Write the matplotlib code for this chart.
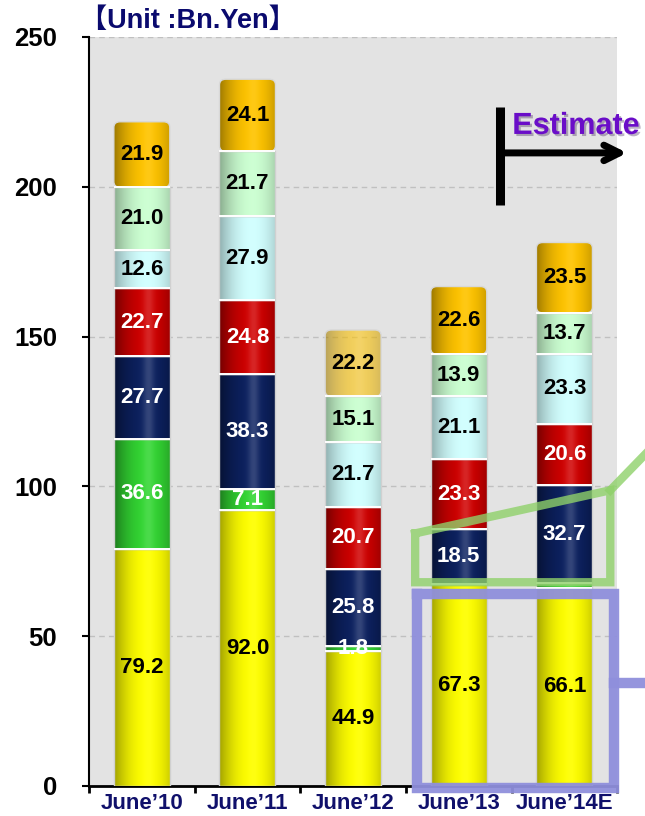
import numpy as np
import matplotlib
matplotlib.use('Agg')
import matplotlib.pyplot as plt
from matplotlib import patheffects
from matplotlib.colors import to_rgb
from matplotlib.patches import Rectangle, FancyBboxPatch

plt.rcParams['font.family'] = ['Liberation Sans', 'Noto Sans CJK JP']
plt.rcParams['font.weight'] = 'bold'

years = ['June’10', 'June’11', 'June’12', 'June’13', 'June’14E']
yellow = [79.2, 92.0, 44.9, 67.3, 66.1]
green = [36.6, 7.1, 1.8, 0.0, 1.5]
navy = [27.7, 38.3, 25.8, 18.5, 32.7]
red = [22.7, 24.8, 20.7, 23.3, 20.6]
cyan = [12.6, 27.9, 21.7, 21.1, 23.3]
mint = [21.0, 21.7, 15.1, 13.9, 13.7]
gold = [21.9, 24.1, 22.2, 22.6, 23.5]

# stack order bottom -> top: values, fill, label colour
layers = [
    (yellow, '#FFFF00', 'black'),
    (green, '#33D633', 'white'),
    (navy, '#0C2160', 'white'),
    (red, '#D00000', 'white'),
    (cyan, '#D2FFFF', 'black'),
    (mint, '#CCFFD2', 'black'),
    (gold, '#FFC400', 'black'),
]
BAR_W = 0.53


def cylinder(color, n=80):
    # horizontal shading: dark left rim, bright band right of centre
    t = np.linspace(0, 1, n)
    s = np.where(t < 0.6, 1 - 0.5 * (1 - t / 0.6) ** 2,
                 1 - 0.25 * ((t - 0.6) / 0.4) ** 2)
    base = np.array(to_rgb(color))
    dark = 1 - base.mean()
    s = 1 - (1 - s) * (0.6 + 0.4 * dark)
    rgb = base[None, :] * s[:, None]
    hl = 0.2 * np.exp(-((t - 0.62) / 0.1) ** 2)
    rgb = rgb + (1 - rgb) * hl[:, None] * dark
    return np.clip(rgb, 0, 1)[None, :, :]


fig = plt.figure(figsize=(6.45, 8.16), dpi=100)
ax = fig.add_axes([0.138, 0.0368, 0.819, 0.9179])
ax.set_facecolor('#E3E3E3')

x = np.arange(len(years))
bottom = np.zeros(len(years))
top_layer = len(layers) - 1
for li, (vals, col, tcol) in enumerate(layers):
    vals = np.array(vals)
    bars = ax.bar(x, vals, BAR_W, bottom=bottom, color=col, lw=0, zorder=2)
    for i, rect in enumerate(bars):
        v = vals[i]
        if v <= 0:
            continue
        alpha = 0.6 if (li == top_layer and i == 2) else 1.0
        x0 = x[i] - BAR_W / 2
        if li == top_layer:
            # rounded cap on the top segment
            rect.set_visible(False)
            clip = FancyBboxPatch((x0, bottom[i]), BAR_W, v,
                                  boxstyle='round,pad=0,rounding_size=0.06',
                                  mutation_aspect=32, fill=False,
                                  ec='#D8D8D8', lw=1, zorder=4)
            ax.add_patch(clip)
        else:
            clip = rect
            ax.add_patch(Rectangle((x0, bottom[i]), BAR_W, v, fill=False,
                                   ec='#D0D0D0', lw=1, zorder=4))
        im = ax.imshow(cylinder(col), extent=[x0, x0 + BAR_W, bottom[i], bottom[i] + v],
                       aspect='auto', interpolation='bilinear', zorder=3, alpha=alpha)
        im.set_clip_path(clip)
        if li > 0:
            ax.plot([x0, x0 + BAR_W], [bottom[i], bottom[i]],
                    color='white', lw=1.4, zorder=4, solid_capstyle='butt')
        if v >= 1.7:
            ax.text(x[i], bottom[i] + v / 2, f'{v:.1f}', ha='center', va='center',
                    fontsize=16, color=tcol, zorder=5)
    bottom = bottom + vals

ax.set_xlim(-0.5, len(years) - 0.5)
ax.set_ylim(0, 250)
ax.set_yticks(range(0, 251, 50))
ax.yaxis.grid(True, linestyle=(0, (4, 3)), color='#C0C0C0', lw=1)
ax.set_axisbelow(True)
ax.tick_params(axis='y', length=5, width=1.5, pad=18, labelsize=18.5)
ax.set_xticks(x, years)
ax.set_xticks(np.arange(-0.5, len(years), 1.0), minor=True)
ax.tick_params(axis='x', which='major', length=0, pad=5, labelsize=16,
               labelcolor='#10106B')
ax.tick_params(axis='x', which='minor', length=5, width=2)
for s in ('top', 'right'):
    ax.spines[s].set_visible(False)
ax.spines['left'].set_linewidth(1.5)
ax.spines['bottom'].set_linewidth(2)

fig.text(0.124, 0.974, '【Unit :Bn.Yen】', fontsize=19.5, color='#0A0A6E',
         ha='left', va='center')

# estimate marker
ax.plot([3.392, 3.392], [194, 226.5], color='black', lw=6.5,
        solid_capstyle='butt', clip_on=False, zorder=6)
ax.annotate('', xy=(4.62, 211.3), xytext=(3.37, 211.3),
            arrowprops=dict(arrowstyle='->', lw=5, color='black', mutation_scale=28),
            annotation_clip=False, zorder=6)
ax.text(3.506, 220.3, 'Estimate', fontsize=22, color='#6A0DC8', ha='left',
        va='center', zorder=7, clip_on=False,
        path_effects=[patheffects.withSimplePatchShadow(offset=(1.5, -1.5), alpha=0.3)])

# highlight frames
ax.plot([2.587, 4.434, 4.434, 2.587, 2.587], [84.3, 98.7, 68.0, 68.0, 84.3],
        color='#8FD16A', lw=6, alpha=0.8, clip_on=False, zorder=8,
        solid_joinstyle='miter')
ax.plot([4.434, 4.80], [98.7, 112.0], color='#8FD16A', lw=6, alpha=0.8,
        clip_on=False, zorder=8)
ax.plot([2.606, 4.472, 4.472, 2.606, 2.606], [64.0, 64.0, -0.7, -0.7, 64.0],
        color='#8F8FDC', lw=7.5, alpha=0.95, clip_on=False, zorder=8,
        solid_joinstyle='miter')
ax.plot([4.472, 4.85], [34.3, 34.3], color='#8F8FDC', lw=7.5, alpha=0.95,
        clip_on=False, zorder=8)

fig.savefig('out.png', dpi=100)
